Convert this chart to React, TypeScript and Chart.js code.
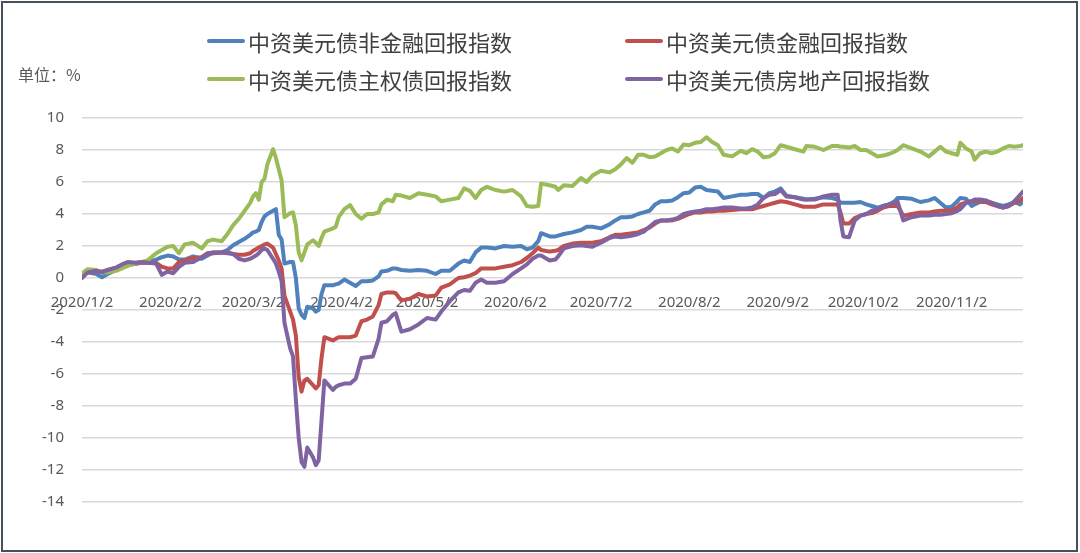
import React, { useEffect, useRef } from "react";
import { Chart, registerables } from "chart.js";

Chart.register(...registerables);

// ---- data ----
const dates = [
  "1/2","1/4","1/7","1/9","1/11","1/14","1/16","1/18","1/21","1/23","1/25","1/28","1/30",
  "2/1","2/3","2/5","2/7","2/10","2/13","2/15","2/17","2/20","2/22","2/24","2/26","2/28",
  "3/1","3/2","3/3","3/4","3/5","3/6","3/7","3/9","3/10","3/11","3/12","3/13","3/15","3/16",
  "3/17","3/18","3/19","3/20","3/21","3/23","3/24","3/25","3/26","3/27","3/30","3/31",
  "4/1","4/3","4/5","4/7","4/9","4/11","4/13","4/15","4/16","4/18","4/20","4/21","4/23","4/26","4/29",
  "5/2","5/5","5/7","5/10","5/13","5/15","5/17","5/19","5/21","5/23","5/26","5/29",
  "6/1","6/4","6/6","6/8","6/10","6/11","6/14","6/16","6/17","6/19","6/22","6/25","6/27","6/29",
  "7/2","7/5","7/7","7/9","7/11","7/13","7/15","7/17","7/19","7/21","7/23","7/25","7/27","7/29","7/31",
  "8/2","8/4","8/6","8/8","8/10","8/12","8/14","8/17","8/20","8/22","8/24","8/26","8/28","8/30",
  "9/1","9/3","9/5","9/8","9/11","9/12","9/15","9/18","9/21","9/23","9/24","9/25","9/27","9/29",
  "10/1","10/3","10/5","10/7","10/9","10/11","10/13","10/14","10/16","10/19","10/22","10/25","10/27","10/29","10/31",
  "11/2","11/4","11/5","11/7","11/9","11/10","11/12","11/14","11/16","11/18","11/20","11/22","11/24","11/26","11/27",
];

// 中资美元债非金融回报指数 (blue)
const nonFinancial = [
  0.15,0.35,0.25,0.05,0.25,0.5,0.7,0.8,0.9,0.95,1.0,1.15,1.3,
  1.4,1.35,1.15,1.15,1.35,1.2,1.4,1.6,1.6,1.75,2.05,2.25,2.45,
  2.7,2.85,2.9,3.0,3.5,3.85,4.0,4.2,4.3,2.7,2.4,0.9,1.0,1.0,
  0.0,-1.9,-2.3,-2.5,-1.8,-1.9,-2.1,-2.0,-1.0,-0.45,-0.45,-0.4,
  -0.35,-0.1,-0.3,-0.5,-0.2,-0.2,-0.15,0.1,0.4,0.45,0.6,0.6,0.5,0.45,0.5,
  0.45,0.25,0.45,0.45,0.9,1.1,1.0,1.6,1.9,1.9,1.85,2.0,
  1.95,2.0,1.8,1.9,2.3,2.8,2.6,2.6,2.65,2.75,2.85,3.0,3.2,3.2,
  3.1,3.35,3.6,3.8,3.8,3.85,4.0,4.1,4.2,4.6,4.8,4.8,4.85,5.05,5.3,
  5.35,5.65,5.7,5.5,5.45,5.4,5.0,5.1,5.2,5.2,5.25,5.25,5.0,5.3,
  5.4,5.6,5.15,5.05,4.95,4.9,4.95,5.05,5.0,4.9,4.7,4.7,4.7,4.7,
  4.75,4.6,4.5,4.4,4.5,4.6,4.8,5.0,5.0,4.95,4.75,4.85,5.0,4.7,4.4,
  4.45,4.8,5.0,4.95,4.5,4.6,4.75,4.75,4.7,4.6,4.5,4.6,4.75,4.6,4.8,
];

// 中资美元债金融回报指数 (red)
const financial = [
  0.1,0.35,0.4,0.4,0.5,0.65,0.8,0.9,0.9,0.95,0.95,0.95,0.7,
  0.6,0.6,1.0,1.1,1.25,1.3,1.55,1.6,1.6,1.6,1.5,1.45,1.45,
  1.55,1.7,1.8,1.9,2.0,2.1,2.15,1.9,1.5,1.1,0.6,-1.1,-2.1,-2.6,
  -3.6,-6.2,-7.1,-6.4,-6.3,-6.7,-6.9,-6.7,-5.0,-3.7,-3.9,-3.8,
  -3.7,-3.7,-3.7,-3.6,-2.7,-2.6,-2.4,-1.7,-1.0,-0.9,-0.9,-0.95,-1.4,-1.3,-1.0,
  -1.15,-1.1,-0.6,-0.4,0.0,0.05,0.15,0.3,0.6,0.6,0.6,0.7,
  0.8,1.0,1.25,1.55,1.9,1.75,1.65,1.7,1.75,2.0,2.15,2.2,2.2,2.2,
  2.3,2.55,2.7,2.7,2.75,2.8,2.85,3.0,3.15,3.4,3.6,3.6,3.6,3.7,3.85,
  4.0,4.1,4.1,4.15,4.15,4.2,4.2,4.25,4.3,4.3,4.3,4.4,4.5,4.6,
  4.7,4.8,4.75,4.6,4.45,4.45,4.45,4.6,4.6,4.6,4.1,3.4,3.4,3.75,
  3.9,4.0,4.06,4.2,4.4,4.5,4.5,4.5,3.9,4.0,4.1,4.1,4.15,4.2,4.2,
  4.25,4.4,4.6,4.7,4.8,4.8,4.8,4.75,4.6,4.5,4.4,4.5,4.7,4.85,5.0,
];

// 中资美元债主权债回报指数 (green)
const sovereign = [
  0.3,0.55,0.5,0.35,0.35,0.45,0.6,0.75,0.95,1.0,1.1,1.55,1.75,
  1.95,2.0,1.55,2.1,2.2,1.85,2.3,2.4,2.3,2.75,3.3,3.7,4.2,
  4.7,5.1,5.3,4.9,6.0,6.2,7.1,8.05,7.5,6.8,6.1,3.8,4.05,4.1,
  3.3,1.6,1.1,1.6,2.1,2.35,2.2,2.0,2.5,2.9,3.1,3.2,
  3.8,4.3,4.55,4.0,3.7,4.0,4.0,4.1,4.6,4.9,4.8,5.2,5.15,5.0,5.3,
  5.2,5.1,4.8,4.9,5.0,5.6,5.45,5.0,5.5,5.7,5.5,5.4,
  5.5,5.1,4.5,4.45,4.5,5.9,5.8,5.7,5.5,5.8,5.75,6.25,6.0,6.4,
  6.7,6.6,6.8,7.1,7.5,7.2,7.7,7.7,7.55,7.6,7.8,8.0,8.1,7.9,8.35,
  8.3,8.45,8.5,8.8,8.5,8.3,7.7,7.6,7.95,7.8,8.05,7.9,7.55,7.6,
  7.8,8.3,8.2,8.05,7.9,8.25,8.2,8.0,8.25,8.25,8.2,8.2,8.15,8.25,
  8.0,8.0,7.8,7.6,7.65,7.75,7.9,8.0,8.3,8.1,7.9,7.6,7.9,8.2,7.9,
  7.8,7.7,8.45,8.1,7.9,7.4,7.8,7.9,7.8,7.9,8.1,8.25,8.2,8.25,8.3,
];

// 中资美元债房地产回报指数 (purple)
const realEstate = [
  0.0,0.35,0.45,0.35,0.5,0.65,0.85,1.0,0.95,1.0,0.95,0.9,0.2,
  0.4,0.3,0.7,0.95,1.0,1.3,1.5,1.55,1.6,1.55,1.5,1.2,1.1,
  1.2,1.3,1.4,1.55,1.75,1.85,1.75,1.2,0.9,0.4,-0.2,-2.8,-4.4,-4.9,
  -7.6,-10.0,-11.5,-11.8,-10.6,-11.2,-11.7,-11.4,-8.9,-6.4,-7.0,-6.8,
  -6.7,-6.6,-6.6,-6.3,-5.0,-4.95,-4.9,-3.8,-2.8,-2.7,-2.3,-2.2,-3.35,-3.2,-2.9,
  -2.5,-2.6,-2.1,-1.45,-0.9,-0.75,-0.8,-0.3,-0.1,-0.3,-0.3,-0.2,
  0.25,0.6,0.85,1.2,1.4,1.4,1.1,1.15,1.35,1.85,2.0,2.05,2.0,1.95,
  2.2,2.5,2.6,2.55,2.6,2.65,2.75,2.9,3.2,3.5,3.6,3.6,3.65,3.75,4.0,
  4.1,4.15,4.2,4.3,4.3,4.35,4.4,4.4,4.35,4.35,4.4,4.6,5.0,5.2,
  5.25,5.5,5.1,5.05,4.9,4.9,4.9,5.1,5.2,5.2,3.6,2.6,2.55,3.6,
  3.9,4.0,4.2,4.3,4.5,4.6,4.7,4.8,3.6,3.8,3.9,3.9,3.95,3.95,4.0,
  4.05,4.2,4.3,4.7,4.8,4.9,4.9,4.85,4.7,4.5,4.4,4.5,4.8,5.2,5.4,
];

const xTickLabels = [
  "2020/1/2","2020/2/2","2020/3/2","2020/4/2","2020/5/2","2020/6/2",
  "2020/7/2","2020/8/2","2020/9/2","2020/10/2","2020/11/2",
];

const seriesNames = [
  "中资美元债非金融回报指数",
  "中资美元债金融回报指数",
  "中资美元债主权债回报指数",
  "中资美元债房地产回报指数",
];
const seriesColors = ["#4F81BD", "#C0504D", "#9BBB59", "#8064A2"];
const yTickMin = -14;
const yTickMax = 10;
const yTickStep = 2;
const unitLabel = "单位：%";

function dayOffset(s: string): number {
  const p = s.split("/").map(Number);
  const m = p.length === 3 ? p[1] : p[0];
  const d = p.length === 3 ? p[2] : p[1];
  return Math.round((Date.UTC(2020, m - 1, d) - Date.UTC(2020, 0, 2)) / 86400000);
}

const TICK_FONT = { family: '"Noto Sans", "DejaVu Sans", sans-serif', size: 15 };
const CJK = '"Noto Sans CJK SC", "Noto Sans", sans-serif';

export default function App() {
  const canvasRef = useRef<HTMLCanvasElement | null>(null);

  useEffect(() => {
    const canvas = canvasRef.current;
    if (!canvas) return;
    const series = [nonFinancial, financial, sovereign, realEstate];
    const xs = dates.map(dayOffset);
    const chart = new Chart(canvas, {
      type: "line",
      data: {
        datasets: series.map((vals, i) => ({
          label: seriesNames[i],
          data: vals.map((v, j) => ({ x: xs[j], y: v })),
          borderColor: seriesColors[i],
          backgroundColor: seriesColors[i],
          borderWidth: 4,
          pointRadius: 0,
          pointHoverRadius: 0,
          tension: 0,
          borderJoinStyle: "round",
          borderCapStyle: "round",
          order: 4 - i,
        })),
      },
      options: {
        responsive: false,
        animation: false,
        devicePixelRatio: 1,
        layout: { padding: { left: 0, right: 57, top: 118, bottom: 51 } },
        plugins: {
          legend: { display: false },
          tooltip: { enabled: false },
        },
        scales: {
          x: {
            type: "linear",
            min: 0,
            max: xs[xs.length - 1],
            position: { y: 0 },
            grid: { display: false, drawTicks: false },
            border: { display: false },
            afterFit: (s: any) => {
              s.height = 0;
            },
            afterBuildTicks: (s: any) => {
              s.ticks = xTickLabels.map((l) => ({ value: dayOffset(l) }));
            },
            ticks: {
              autoSkip: false,
              maxRotation: 0,
              minRotation: 0,
              padding: 16,
              color: "#595959",
              font: TICK_FONT,
              callback: (_v: any, i: number) => xTickLabels[i],
            },
          },
          y: {
            type: "linear",
            min: yTickMin,
            max: yTickMax,
            grid: { color: "#d9d9d9", lineWidth: 1.5, drawTicks: false },
            border: { display: false },
            afterFit: (s: any) => {
              s.width = 82;
            },
            ticks: {
              stepSize: yTickStep,
              padding: 18,
              color: "#595959",
              font: TICK_FONT,
            },
          },
        },
      },
    } as any);
    return () => chart.destroy();
  }, []);

  const legendSpots = [
    { left: 207, top: 41 },
    { left: 625, top: 41 },
    { left: 207, top: 79 },
    { left: 625, top: 79 },
  ];

  return (
    <div
      style={{
        position: "absolute",
        left: 0,
        top: 0,
        width: 1080,
        height: 553,
        background: "#ffffff",
        overflow: "hidden",
      }}
    >
      <canvas
        ref={canvasRef}
        width={1080}
        height={553}
        style={{ position: "absolute", left: 0, top: 0, width: 1080, height: 553 }}
      />
      {seriesNames.map((name, i) => (
        <div
          key={name}
          style={{
            position: "absolute",
            left: legendSpots[i].left,
            top: legendSpots[i].top - 15,
            height: 30,
            display: "flex",
            alignItems: "center",
            whiteSpace: "nowrap",
          }}
        >
          <div
            style={{
              width: 38,
              height: 4,
              borderRadius: 2,
              background: seriesColors[i],
            }}
          />
          <span
            style={{
              marginLeft: 3,
              fontFamily: CJK,
              fontSize: 22,
              lineHeight: "30px",
              color: "#404040",
            }}
          >
            {name}
          </span>
        </div>
      ))}
      <div
        style={{
          position: "absolute",
          left: 18,
          top: 62,
          height: 24,
          lineHeight: "24px",
          fontFamily: CJK,
          fontSize: 16,
          color: "#595959",
          whiteSpace: "nowrap",
        }}
      >
        {unitLabel}
      </div>
      <div
        style={{
          position: "absolute",
          left: 1,
          top: 1,
          width: 1077,
          height: 551,
          boxSizing: "border-box",
          border: "2px solid #46515c",
          pointerEvents: "none",
        }}
      />
    </div>
  );
}
